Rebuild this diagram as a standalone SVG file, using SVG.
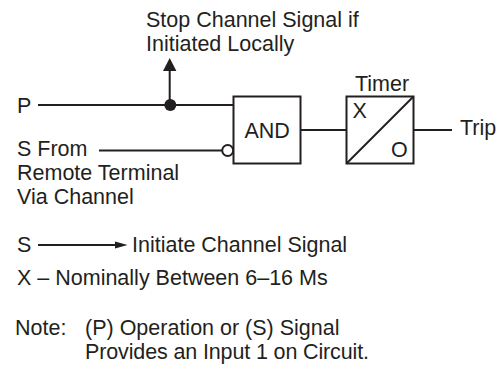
<svg xmlns="http://www.w3.org/2000/svg" width="500" height="366" viewBox="0 0 500 366">
<style>
text{font-family:"Liberation Sans",Arial,sans-serif;font-size:21.500px;fill:#231f20}
.b{fill:#fff;stroke:#231f20;stroke-width:2}
.l{fill:none;stroke:#231f20;stroke-width:2}
</style>
<rect width="500" height="366" fill="#fff"/>
<g id="connectors">
<path class="l" d="M38 105H233"/>
<path class="l" d="M99 150.500H222"/>
<path class="l" d="M169.700 105V68"/>
<path d="M163 71L169.700 58L176.400 71Z" fill="#231f20"/>
<circle cx="170.300" cy="105" r="6" fill="#231f20"/>
<path class="l" d="M301 130H346"/>
<path class="l" d="M414 130H452"/>
<path class="l" d="M38 245H118"/>
<path d="M115 241.500L127.500 245L115 248.500Z" fill="#231f20"/>
</g>
<g id="invert"><circle class="b" cx="227.700" cy="150.500" r="5.500"/></g>
<g id="and"><rect class="b" x="233.500" y="96.500" width="67" height="67"/><text x="244.500" y="138">AND</text></g>
<g id="timer"><rect class="b" x="346.500" y="96.500" width="67" height="67"/><path class="l" d="M346.500 163.500L413.500 96.500"/><text x="352.500" y="118">X</text><text x="391" y="157">O</text><text x="355" y="91">Timer</text></g>
<g id="labels">
<text x="146" y="27">Stop Channel Signal if</text>
<text x="146" y="51">Initiated Locally</text>
<text x="17" y="113">P</text>
<text x="17" y="156">S From</text>
<text x="17" y="180">Remote Terminal</text>
<text x="17" y="204">Via Channel</text>
<text x="460" y="135">Trip</text>
<text x="17" y="252">S</text>
<text x="132" y="252">Initiate Channel Signal</text>
<text x="17" y="285">X – Nominally Between 6–16 Ms</text>
<text x="15" y="335">Note:</text>
<text x="85" y="335">(P) Operation or (S) Signal</text>
<text x="85" y="359" textLength="284">Provides an Input 1 on Circuit.</text>
</g>
</svg>
